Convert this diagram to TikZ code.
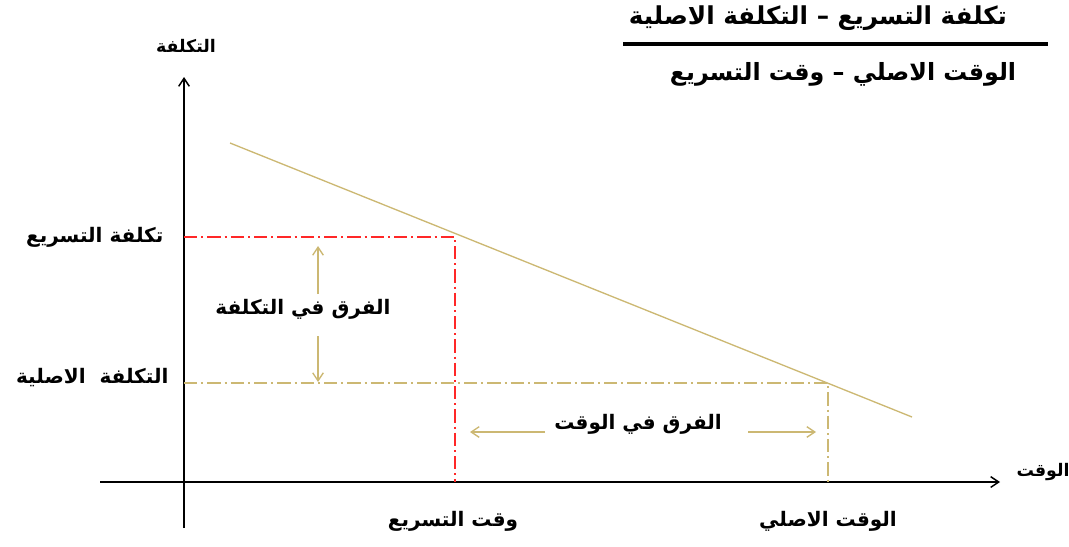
\documentclass[tikz,border=0pt]{standalone}
\usepackage{fontspec}
\usetikzlibrary{arrows.meta}
\TeXXeTstate=1
\newfontfamily\arabicfont[Script=Arabic]{DejaVu Sans}
\definecolor{khakiline}{RGB}{204,184,115}
\definecolor{redline}{RGB}{255,40,40}
\begin{document}
\begin{tikzpicture}[x=0.75pt,y=-0.75pt,
  lbl/.style={font=\arabicfont\bfseries\fontsize{15}{17}\selectfont, inner sep=1pt},
  biglbl/.style={font=\arabicfont\bfseries\fontsize{18.5}{21}\selectfont, inner sep=1pt},
  axlbl/.style={font=\arabicfont\bfseries\fontsize{13}{15}\selectfont, inner sep=1pt},
  axis/.style={draw=black, line width=1.1pt, -{Straight Barb[length=6pt,width=8pt]}},
  dashdot/.style={dash pattern=on 10pt off 3pt on 1.5pt off 3pt, line width=1pt},
  diffarrow/.style={draw=khakiline, line width=1pt, -{Straight Barb[length=6pt,width=8pt]}}]
\useasboundingbox (0,0) rectangle (1069,546);
% coordinates
\coordinate (xs) at (100,482);
\coordinate (xe) at (1000,482);
\coordinate (ys) at (184,528);
\coordinate (ye) at (184,77);
\coordinate (A) at (230,143);
\coordinate (B) at (912,417);
\coordinate (C) at (455,237);
\coordinate (D) at (828,383);
\coordinate (Cy) at (184,237);
\coordinate (Dy) at (184,383);
\coordinate (Cx) at (455,482);
\coordinate (Dx) at (828,482);
% axes
\draw[axis] (xs) -- (xe);
\draw[axis] (ys) -- (ye);
% cost line
\draw[khakiline, line width=1pt] (A) -- (B);
% guide lines
\draw[dashdot, redline] (Cy) -- (C) -- (Cx);
\draw[dashdot, khakiline] (Dy) -- (D) -- (Dx);
% labels
\node[axlbl] (ylab) at (186,46) {\beginR التكلفة\endR};
\node[axlbl] (xlab) at (1043,472) {\beginR الوقت\endR};
\node[lbl, anchor=east] (crashcost) at (165,237) {\beginR تكلفة التسريع\endR};
\node[lbl, anchor=east] (origcost) at (170,378) {\beginR التكلفة\ \ الاصلية\endR};
\node[lbl] (costdiff) at (303,309) {\beginR الفرق في التكلفة\endR};
\node[lbl] (timediff) at (638,424) {\beginR الفرق في الوقت\endR};
\node[lbl] (crashtime) at (453,521) {\beginR وقت التسريع\endR};
\node[lbl] (origtime) at (828,521) {\beginR الوقت الاصلي\endR};
% difference arrows
\coordinate (ua) at (318,294);
\coordinate (ub) at (318,246);
\coordinate (da) at (318,336);
\coordinate (db) at (318,382);
\draw[diffarrow] (ua) -- (ub);
\draw[diffarrow] (da) -- (db);
\coordinate (la) at (545,432);
\coordinate (lb) at (470,432);
\coordinate (ra) at (748,432);
\coordinate (rb) at (816,432);
\draw[diffarrow] (la) -- (lb);
\draw[diffarrow] (ra) -- (rb);
% formula
\node[biglbl] (num) at (818,18) {\beginR تكلفة التسريع – التكلفة الاصلية\endR};
\coordinate (fl) at (623,44);
\coordinate (fr) at (1048,44);
\draw[black, line width=2.5pt] (fl) -- (fr);
\node[biglbl, font=\arabicfont\bfseries\fontsize{17.8}{21}\selectfont] (den) at (843,74) {\beginR الوقت الاصلي – وقت التسريع\endR};
\end{tikzpicture}
\end{document}
